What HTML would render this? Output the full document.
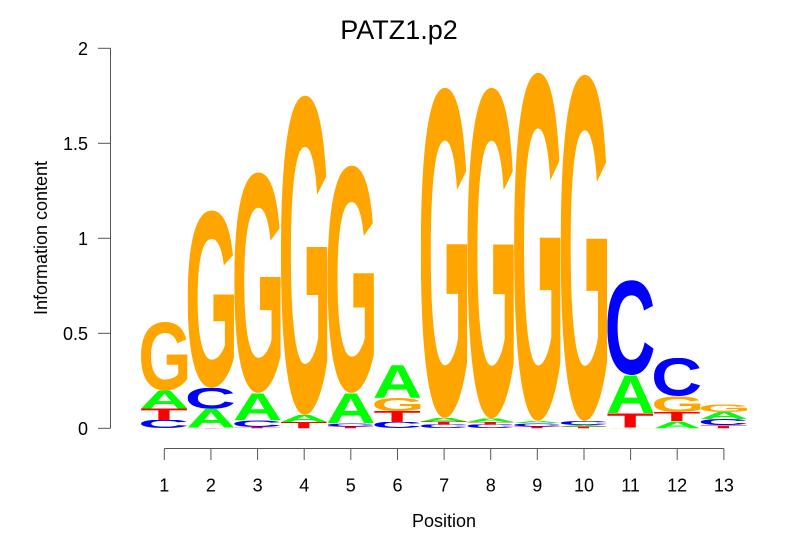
<!DOCTYPE html>
<html>
<head>
<meta charset="utf-8">
<style>
html,body{margin:0;padding:0;background:#fff;}
svg{display:block;}
.lab{font-family:"Liberation Sans",Arial,sans-serif;fill:#000;}
.lt{font-family:"Liberation Sans",Arial,sans-serif;font-weight:bold;}
</style>
</head>
<body>
<svg id="root" width="806" height="559" viewBox="0 0 806 559" xmlns="http://www.w3.org/2000/svg">
<rect width="806" height="559" fill="#fff"/>
<text class="lab" x="399" y="39" font-size="27" text-anchor="middle">PATZ1.p2</text>

<!-- y axis -->
<g stroke="#555" stroke-width="1" fill="none">
<line x1="110.5" y1="48.3" x2="110.5" y2="428.3"/>
<line x1="98" y1="428.3" x2="110.5" y2="428.3"/>
<line x1="98" y1="333.3" x2="110.5" y2="333.3"/>
<line x1="98" y1="238.3" x2="110.5" y2="238.3"/>
<line x1="98" y1="143.3" x2="110.5" y2="143.3"/>
<line x1="98" y1="48.3" x2="110.5" y2="48.3"/>
</g>
<g class="lab" font-size="18" text-anchor="end">
<text x="88" y="435">0</text>
<text x="88" y="340">0.5</text>
<text x="88" y="245">1</text>
<text x="88" y="150">1.5</text>
<text x="88" y="55">2</text>
</g>
<text class="lab" font-size="18" text-anchor="middle" transform="translate(47,238) rotate(-90)">Information content</text>

<!-- x axis -->
<g stroke="#555" stroke-width="1" fill="none">
<line x1="164.3" y1="448.5" x2="723.9" y2="448.5"/>
<line x1="164.3" y1="448.5" x2="164.3" y2="460"/>
<line x1="210.9" y1="448.5" x2="210.9" y2="460"/>
<line x1="257.6" y1="448.5" x2="257.6" y2="460"/>
<line x1="304.2" y1="448.5" x2="304.2" y2="460"/>
<line x1="350.8" y1="448.5" x2="350.8" y2="460"/>
<line x1="397.5" y1="448.5" x2="397.5" y2="460"/>
<line x1="444.1" y1="448.5" x2="444.1" y2="460"/>
<line x1="490.7" y1="448.5" x2="490.7" y2="460"/>
<line x1="537.3" y1="448.5" x2="537.3" y2="460"/>
<line x1="584.0" y1="448.5" x2="584.0" y2="460"/>
<line x1="630.6" y1="448.5" x2="630.6" y2="460"/>
<line x1="677.2" y1="448.5" x2="677.2" y2="460"/>
<line x1="723.9" y1="448.5" x2="723.9" y2="460"/>
</g>
<g class="lab" font-size="18" text-anchor="middle">
<text x="164.3" y="491.5">1</text>
<text x="210.9" y="491.5">2</text>
<text x="257.6" y="491.5">3</text>
<text x="304.2" y="491.5">4</text>
<text x="350.8" y="491.5">5</text>
<text x="397.5" y="491.5">6</text>
<text x="444.1" y="491.5">7</text>
<text x="490.7" y="491.5">8</text>
<text x="537.3" y="491.5">9</text>
<text x="584.0" y="491.5">10</text>
<text x="630.6" y="491.5">11</text>
<text x="677.2" y="491.5">12</text>
<text x="723.9" y="491.5">13</text>
</g>
<text class="lab" x="444" y="527" font-size="18" text-anchor="middle">Position</text>

<!-- logo letters -->
<g id="logo">
<!-- col 1 -->
<svg class="C" x="141.0" y="420" width="46.6" height="8.3" viewBox="4.4 -70.5 63.1 71.7" preserveAspectRatio="none"><text class="lt" font-size="100" fill="#0000FF">C</text></svg>
<svg class="T" x="141.0" y="408.5" width="46.6" height="11.5" viewBox="2.2 -68.8 56.8 68.8" preserveAspectRatio="none"><text class="lt" font-size="100" fill="#FF0000">T</text></svg>
<svg class="A" x="141.0" y="390.5" width="46.6" height="18" viewBox="0 -68.8 72.2 68.8" preserveAspectRatio="none"><text class="lt" font-size="100" fill="#00FF00">A</text></svg>
<svg class="G" x="141.0" y="322" width="46.6" height="68.5" viewBox="4.4 -70.5 68.1 71.7" preserveAspectRatio="none"><text class="lt" font-size="100" fill="#FFA500">G</text></svg>
<!-- col 2 -->
<svg class="T" x="187.63" y="427.5" width="46.6" height="0.8" viewBox="2.2 -68.8 56.8 68.8" preserveAspectRatio="none"><text class="lt" font-size="100" fill="#FF0000">T</text></svg>
<svg class="A" x="187.63" y="409" width="46.6" height="18.5" viewBox="0 -68.8 72.2 68.8" preserveAspectRatio="none"><text class="lt" font-size="100" fill="#00FF00">A</text></svg>
<svg class="C" x="187.63" y="388" width="46.6" height="21" viewBox="4.4 -70.5 63.1 71.7" preserveAspectRatio="none"><text class="lt" font-size="100" fill="#0000FF">C</text></svg>
<svg class="G" x="187.63" y="210" width="46.6" height="178" viewBox="4.4 -70.5 68.1 71.7" preserveAspectRatio="none"><text class="lt" font-size="100" fill="#FFA500">G</text></svg>
<!-- col 3 -->
<svg class="T" x="234.26" y="427" width="46.6" height="1.3" viewBox="2.2 -68.8 56.8 68.8" preserveAspectRatio="none"><text class="lt" font-size="100" fill="#FF0000">T</text></svg>
<svg class="C" x="234.26" y="420.5" width="46.6" height="6.5" viewBox="4.4 -70.5 63.1 71.7" preserveAspectRatio="none"><text class="lt" font-size="100" fill="#0000FF">C</text></svg>
<svg class="A" x="234.26" y="393" width="46.6" height="27.5" viewBox="0 -68.8 72.2 68.8" preserveAspectRatio="none"><text class="lt" font-size="100" fill="#00FF00">A</text></svg>
<svg class="G" x="234.26" y="172" width="46.6" height="221" viewBox="4.4 -70.5 68.1 71.7" preserveAspectRatio="none"><text class="lt" font-size="100" fill="#FFA500">G</text></svg>
<!-- col 4 -->
<svg class="T" x="280.89" y="422" width="46.6" height="6.3" viewBox="2.2 -68.8 56.8 68.8" preserveAspectRatio="none"><text class="lt" font-size="100" fill="#FF0000">T</text></svg>
<svg class="A" x="280.89" y="415" width="46.6" height="7" viewBox="0 -68.8 72.2 68.8" preserveAspectRatio="none"><text class="lt" font-size="100" fill="#00FF00">A</text></svg>
<svg class="G" x="280.89" y="95" width="46.6" height="320" viewBox="4.4 -70.5 68.1 71.7" preserveAspectRatio="none"><text class="lt" font-size="100" fill="#FFA500">G</text></svg>
<!-- col 5 -->
<svg class="T" x="327.52" y="426.5" width="46.6" height="1.8" viewBox="2.2 -68.8 56.8 68.8" preserveAspectRatio="none"><text class="lt" font-size="100" fill="#FF0000">T</text></svg>
<svg class="C" x="327.52" y="423" width="46.6" height="3.5" viewBox="4.4 -70.5 63.1 71.7" preserveAspectRatio="none"><text class="lt" font-size="100" fill="#0000FF">C</text></svg>
<svg class="A" x="327.52" y="393" width="46.6" height="30" viewBox="0 -68.8 72.2 68.8" preserveAspectRatio="none"><text class="lt" font-size="100" fill="#00FF00">A</text></svg>
<svg class="G" x="327.52" y="165" width="46.6" height="228" viewBox="4.4 -70.5 68.1 71.7" preserveAspectRatio="none"><text class="lt" font-size="100" fill="#FFA500">G</text></svg>
<!-- col 6 -->
<svg class="C" x="374.15" y="422" width="46.6" height="6.3" viewBox="4.4 -70.5 63.1 71.7" preserveAspectRatio="none"><text class="lt" font-size="100" fill="#0000FF">C</text></svg>
<svg class="T" x="374.15" y="411" width="46.6" height="11" viewBox="2.2 -68.8 56.8 68.8" preserveAspectRatio="none"><text class="lt" font-size="100" fill="#FF0000">T</text></svg>
<svg class="G" x="374.15" y="398" width="46.6" height="13" viewBox="4.4 -70.5 68.1 71.7" preserveAspectRatio="none"><text class="lt" font-size="100" fill="#FFA500">G</text></svg>
<svg class="A" x="374.15" y="365" width="46.6" height="33" viewBox="0 -68.8 72.2 68.8" preserveAspectRatio="none"><text class="lt" font-size="100" fill="#00FF00">A</text></svg>
<!-- col 7 -->
<svg class="C" x="420.78" y="424.5" width="46.6" height="3.8" viewBox="4.4 -70.5 63.1 71.7" preserveAspectRatio="none"><text class="lt" font-size="100" fill="#0000FF">C</text></svg>
<svg class="T" x="420.78" y="421.5" width="46.6" height="3" viewBox="2.2 -68.8 56.8 68.8" preserveAspectRatio="none"><text class="lt" font-size="100" fill="#FF0000">T</text></svg>
<svg class="A" x="420.78" y="418" width="46.6" height="3.5" viewBox="0 -68.8 72.2 68.8" preserveAspectRatio="none"><text class="lt" font-size="100" fill="#00FF00">A</text></svg>
<svg class="G" x="420.78" y="87" width="46.6" height="331" viewBox="4.4 -70.5 68.1 71.7" preserveAspectRatio="none"><text class="lt" font-size="100" fill="#FFA500">G</text></svg>
<!-- col 8 -->
<svg class="C" x="467.41" y="424.5" width="46.6" height="3.8" viewBox="4.4 -70.5 63.1 71.7" preserveAspectRatio="none"><text class="lt" font-size="100" fill="#0000FF">C</text></svg>
<svg class="T" x="467.41" y="422" width="46.6" height="2.5" viewBox="2.2 -68.8 56.8 68.8" preserveAspectRatio="none"><text class="lt" font-size="100" fill="#FF0000">T</text></svg>
<svg class="A" x="467.41" y="418.5" width="46.6" height="3.5" viewBox="0 -68.8 72.2 68.8" preserveAspectRatio="none"><text class="lt" font-size="100" fill="#00FF00">A</text></svg>
<svg class="G" x="467.41" y="87" width="46.6" height="331.5" viewBox="4.4 -70.5 68.1 71.7" preserveAspectRatio="none"><text class="lt" font-size="100" fill="#FFA500">G</text></svg>
<!-- col 9 -->
<svg class="T" x="514.04" y="426.5" width="46.6" height="1.8" viewBox="2.2 -68.8 56.8 68.8" preserveAspectRatio="none"><text class="lt" font-size="100" fill="#FF0000">T</text></svg>
<svg class="C" x="514.04" y="423" width="46.6" height="3.5" viewBox="4.4 -70.5 63.1 71.7" preserveAspectRatio="none"><text class="lt" font-size="100" fill="#0000FF">C</text></svg>
<svg class="A" x="514.04" y="421" width="46.6" height="2" viewBox="0 -68.8 72.2 68.8" preserveAspectRatio="none"><text class="lt" font-size="100" fill="#00FF00">A</text></svg>
<svg class="G" x="514.04" y="72" width="46.6" height="349" viewBox="4.4 -70.5 68.1 71.7" preserveAspectRatio="none"><text class="lt" font-size="100" fill="#FFA500">G</text></svg>
<!-- col 10 -->
<svg class="T" x="560.67" y="426.5" width="46.6" height="1.8" viewBox="2.2 -68.8 56.8 68.8" preserveAspectRatio="none"><text class="lt" font-size="100" fill="#FF0000">T</text></svg>
<svg class="A" x="560.67" y="425" width="46.6" height="1.5" viewBox="0 -68.8 72.2 68.8" preserveAspectRatio="none"><text class="lt" font-size="100" fill="#00FF00">A</text></svg>
<svg class="C" x="560.67" y="421" width="46.6" height="4" viewBox="4.4 -70.5 63.1 71.7" preserveAspectRatio="none"><text class="lt" font-size="100" fill="#0000FF">C</text></svg>
<svg class="G" x="560.67" y="74" width="46.6" height="347" viewBox="4.4 -70.5 68.1 71.7" preserveAspectRatio="none"><text class="lt" font-size="100" fill="#FFA500">G</text></svg>
<!-- col 11 -->
<svg class="G" x="607.3" y="427.5" width="46.6" height="0.8" viewBox="4.4 -70.5 68.1 71.7" preserveAspectRatio="none"><text class="lt" font-size="100" fill="#FFA500">G</text></svg>
<svg class="T" x="607.3" y="413" width="46.6" height="14.5" viewBox="2.2 -68.8 56.8 68.8" preserveAspectRatio="none"><text class="lt" font-size="100" fill="#FF0000">T</text></svg>
<svg class="A" x="607.3" y="375" width="46.6" height="38" viewBox="0 -68.8 72.2 68.8" preserveAspectRatio="none"><text class="lt" font-size="100" fill="#00FF00">A</text></svg>
<svg class="C" x="607.3" y="280" width="46.6" height="95" viewBox="4.4 -70.5 63.1 71.7" preserveAspectRatio="none"><text class="lt" font-size="100" fill="#0000FF">C</text></svg>
<!-- col 12 -->
<svg class="A" x="653.93" y="421" width="46.6" height="7.3" viewBox="0 -68.8 72.2 68.8" preserveAspectRatio="none"><text class="lt" font-size="100" fill="#00FF00">A</text></svg>
<svg class="T" x="653.93" y="412" width="46.6" height="9" viewBox="2.2 -68.8 56.8 68.8" preserveAspectRatio="none"><text class="lt" font-size="100" fill="#FF0000">T</text></svg>
<svg class="G" x="653.93" y="396" width="46.6" height="16" viewBox="4.4 -70.5 68.1 71.7" preserveAspectRatio="none"><text class="lt" font-size="100" fill="#FFA500">G</text></svg>
<svg class="C" x="653.93" y="358" width="46.6" height="38" viewBox="4.4 -70.5 63.1 71.7" preserveAspectRatio="none"><text class="lt" font-size="100" fill="#0000FF">C</text></svg>
<!-- col 13 -->
<svg class="T" x="700.56" y="425" width="46.6" height="3.3" viewBox="2.2 -68.8 56.8 68.8" preserveAspectRatio="none"><text class="lt" font-size="100" fill="#FF0000">T</text></svg>
<svg class="C" x="700.56" y="419" width="46.6" height="6" viewBox="4.4 -70.5 63.1 71.7" preserveAspectRatio="none"><text class="lt" font-size="100" fill="#0000FF">C</text></svg>
<svg class="A" x="700.56" y="412" width="46.6" height="7" viewBox="0 -68.8 72.2 68.8" preserveAspectRatio="none"><text class="lt" font-size="100" fill="#00FF00">A</text></svg>
<svg class="G" x="700.56" y="404" width="46.6" height="8" viewBox="4.4 -70.5 68.1 71.7" preserveAspectRatio="none"><text class="lt" font-size="100" fill="#FFA500">G</text></svg>
</g>
</svg>
<script>
(function(){
  try{
    var c=document.createElement('canvas').getContext('2d');
    c.font='bold 100px "Liberation Sans", Arial, sans-serif';
    ['A','C','G','T'].forEach(function(L){
      var m=c.measureText(L);
      if(m && m.actualBoundingBoxAscent){
        var l=m.actualBoundingBoxLeft||0, r=m.actualBoundingBoxRight, a=m.actualBoundingBoxAscent, d=m.actualBoundingBoxDescent||0;
        var vb=(-l)+' '+(-a)+' '+(l+r)+' '+(a+d);
        var els=document.querySelectorAll('#logo svg.'+L);
        for(var i=0;i<els.length;i++){els[i].setAttribute('viewBox',vb);}
      }
    });
  }catch(e){}
})();
</script>
</body>
</html>
